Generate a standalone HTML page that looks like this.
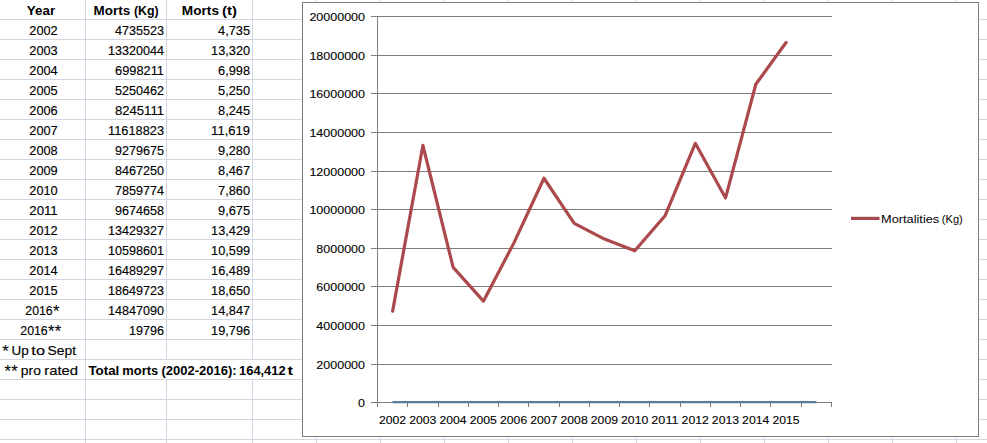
<!DOCTYPE html>
<html><head><meta charset="utf-8"><style>
html,body{margin:0;padding:0;background:#fff;width:987px;height:443px;overflow:hidden}
svg{display:block;font-family:"Liberation Sans", sans-serif}
</style></head><body>
<svg width="987" height="443" viewBox="0 0 987 443">
<rect x="0" y="19" width="987" height="1" fill="#d2d6e2"/>
<rect x="0" y="39" width="987" height="1" fill="#d2d6e2"/>
<rect x="0" y="59" width="987" height="1" fill="#d2d6e2"/>
<rect x="0" y="79" width="987" height="1" fill="#d2d6e2"/>
<rect x="0" y="99" width="987" height="1" fill="#d2d6e2"/>
<rect x="0" y="119" width="987" height="1" fill="#d2d6e2"/>
<rect x="0" y="139" width="987" height="1" fill="#d2d6e2"/>
<rect x="0" y="159" width="987" height="1" fill="#d2d6e2"/>
<rect x="0" y="179" width="987" height="1" fill="#d2d6e2"/>
<rect x="0" y="199" width="987" height="1" fill="#d2d6e2"/>
<rect x="0" y="219" width="987" height="1" fill="#d2d6e2"/>
<rect x="0" y="239" width="987" height="1" fill="#d2d6e2"/>
<rect x="0" y="259" width="987" height="1" fill="#d2d6e2"/>
<rect x="0" y="279" width="987" height="1" fill="#d2d6e2"/>
<rect x="0" y="299" width="987" height="1" fill="#d2d6e2"/>
<rect x="0" y="319" width="987" height="1" fill="#d2d6e2"/>
<rect x="0" y="339" width="987" height="1" fill="#d2d6e2"/>
<rect x="0" y="359" width="987" height="1" fill="#d2d6e2"/>
<rect x="0" y="379" width="987" height="1" fill="#d2d6e2"/>
<rect x="0" y="399" width="987" height="1" fill="#d2d6e2"/>
<rect x="0" y="419" width="987" height="1" fill="#d2d6e2"/>
<rect x="0" y="439" width="987" height="1" fill="#d2d6e2"/>
<rect x="85" y="0" width="1" height="443" fill="#d2d6e2"/>
<rect x="166" y="0" width="1" height="360" fill="#d2d6e2"/>
<rect x="166" y="379" width="1" height="64" fill="#d2d6e2"/>
<rect x="252" y="0" width="1" height="360" fill="#d2d6e2"/>
<rect x="252" y="379" width="1" height="64" fill="#d2d6e2"/>
<rect x="316" y="0" width="1" height="443" fill="#d2d6e2"/>
<rect x="380" y="0" width="1" height="443" fill="#d2d6e2"/>
<rect x="444" y="0" width="1" height="443" fill="#d2d6e2"/>
<rect x="508" y="0" width="1" height="443" fill="#d2d6e2"/>
<rect x="572" y="0" width="1" height="443" fill="#d2d6e2"/>
<rect x="636" y="0" width="1" height="443" fill="#d2d6e2"/>
<rect x="700" y="0" width="1" height="443" fill="#d2d6e2"/>
<rect x="764" y="0" width="1" height="443" fill="#d2d6e2"/>
<rect x="828" y="0" width="1" height="443" fill="#d2d6e2"/>
<rect x="892" y="0" width="1" height="443" fill="#d2d6e2"/>
<rect x="956" y="0" width="1" height="443" fill="#d2d6e2"/>
<text x="26.86" y="15" text-anchor="start" font-size="13" font-weight="bold" textLength="28.29" lengthAdjust="spacingAndGlyphs" fill="#000">Year</text>
<text x="93.64" y="15" text-anchor="start" font-size="13" font-weight="bold" textLength="36.64" lengthAdjust="spacingAndGlyphs" fill="#000">Morts</text>
<text x="133.96" y="15" text-anchor="start" font-size="13" font-weight="bold" textLength="24.76" lengthAdjust="spacingAndGlyphs" fill="#000">(Kg)</text>
<text x="181.82" y="15" text-anchor="start" font-size="13" font-weight="bold" textLength="37.16" lengthAdjust="spacingAndGlyphs" fill="#000">Morts</text>
<text x="222.03" y="15" text-anchor="start" font-size="13" font-weight="bold" textLength="14.92" lengthAdjust="spacingAndGlyphs" fill="#000">(t)</text>
<text x="43.50" y="35" text-anchor="middle" font-size="13" textLength="28.40" lengthAdjust="spacingAndGlyphs" fill="#000" stroke="#000" stroke-width="0.15">2002</text>
<text x="164.00" y="35" text-anchor="end" font-size="13" textLength="49.00" lengthAdjust="spacingAndGlyphs" fill="#000" stroke="#000" stroke-width="0.15">4735523</text>
<text x="250.10" y="35" text-anchor="end" font-size="13" textLength="32.00" lengthAdjust="spacingAndGlyphs" fill="#000" stroke="#000" stroke-width="0.15">4,735</text>
<text x="43.50" y="55" text-anchor="middle" font-size="13" textLength="28.40" lengthAdjust="spacingAndGlyphs" fill="#000" stroke="#000" stroke-width="0.15">2003</text>
<text x="164.00" y="55" text-anchor="end" font-size="13" textLength="56.00" lengthAdjust="spacingAndGlyphs" fill="#000" stroke="#000" stroke-width="0.15">13320044</text>
<text x="250.10" y="55" text-anchor="end" font-size="13" textLength="39.00" lengthAdjust="spacingAndGlyphs" fill="#000" stroke="#000" stroke-width="0.15">13,320</text>
<text x="43.50" y="75" text-anchor="middle" font-size="13" textLength="28.40" lengthAdjust="spacingAndGlyphs" fill="#000" stroke="#000" stroke-width="0.15">2004</text>
<text x="164.00" y="75" text-anchor="end" font-size="13" textLength="49.00" lengthAdjust="spacingAndGlyphs" fill="#000" stroke="#000" stroke-width="0.15">6998211</text>
<text x="250.10" y="75" text-anchor="end" font-size="13" textLength="32.00" lengthAdjust="spacingAndGlyphs" fill="#000" stroke="#000" stroke-width="0.15">6,998</text>
<text x="43.50" y="95" text-anchor="middle" font-size="13" textLength="28.40" lengthAdjust="spacingAndGlyphs" fill="#000" stroke="#000" stroke-width="0.15">2005</text>
<text x="164.00" y="95" text-anchor="end" font-size="13" textLength="49.00" lengthAdjust="spacingAndGlyphs" fill="#000" stroke="#000" stroke-width="0.15">5250462</text>
<text x="250.10" y="95" text-anchor="end" font-size="13" textLength="32.00" lengthAdjust="spacingAndGlyphs" fill="#000" stroke="#000" stroke-width="0.15">5,250</text>
<text x="43.50" y="115" text-anchor="middle" font-size="13" textLength="28.40" lengthAdjust="spacingAndGlyphs" fill="#000" stroke="#000" stroke-width="0.15">2006</text>
<text x="164.00" y="115" text-anchor="end" font-size="13" textLength="49.00" lengthAdjust="spacingAndGlyphs" fill="#000" stroke="#000" stroke-width="0.15">8245111</text>
<text x="250.10" y="115" text-anchor="end" font-size="13" textLength="32.00" lengthAdjust="spacingAndGlyphs" fill="#000" stroke="#000" stroke-width="0.15">8,245</text>
<text x="43.50" y="135" text-anchor="middle" font-size="13" textLength="28.40" lengthAdjust="spacingAndGlyphs" fill="#000" stroke="#000" stroke-width="0.15">2007</text>
<text x="164.00" y="135" text-anchor="end" font-size="13" textLength="56.00" lengthAdjust="spacingAndGlyphs" fill="#000" stroke="#000" stroke-width="0.15">11618823</text>
<text x="250.10" y="135" text-anchor="end" font-size="13" textLength="39.00" lengthAdjust="spacingAndGlyphs" fill="#000" stroke="#000" stroke-width="0.15">11,619</text>
<text x="43.50" y="155" text-anchor="middle" font-size="13" textLength="28.40" lengthAdjust="spacingAndGlyphs" fill="#000" stroke="#000" stroke-width="0.15">2008</text>
<text x="164.00" y="155" text-anchor="end" font-size="13" textLength="49.00" lengthAdjust="spacingAndGlyphs" fill="#000" stroke="#000" stroke-width="0.15">9279675</text>
<text x="250.10" y="155" text-anchor="end" font-size="13" textLength="32.00" lengthAdjust="spacingAndGlyphs" fill="#000" stroke="#000" stroke-width="0.15">9,280</text>
<text x="43.50" y="175" text-anchor="middle" font-size="13" textLength="28.40" lengthAdjust="spacingAndGlyphs" fill="#000" stroke="#000" stroke-width="0.15">2009</text>
<text x="164.00" y="175" text-anchor="end" font-size="13" textLength="49.00" lengthAdjust="spacingAndGlyphs" fill="#000" stroke="#000" stroke-width="0.15">8467250</text>
<text x="250.10" y="175" text-anchor="end" font-size="13" textLength="32.00" lengthAdjust="spacingAndGlyphs" fill="#000" stroke="#000" stroke-width="0.15">8,467</text>
<text x="43.50" y="195" text-anchor="middle" font-size="13" textLength="28.40" lengthAdjust="spacingAndGlyphs" fill="#000" stroke="#000" stroke-width="0.15">2010</text>
<text x="164.00" y="195" text-anchor="end" font-size="13" textLength="49.00" lengthAdjust="spacingAndGlyphs" fill="#000" stroke="#000" stroke-width="0.15">7859774</text>
<text x="250.10" y="195" text-anchor="end" font-size="13" textLength="32.00" lengthAdjust="spacingAndGlyphs" fill="#000" stroke="#000" stroke-width="0.15">7,860</text>
<text x="43.50" y="215" text-anchor="middle" font-size="13" textLength="28.40" lengthAdjust="spacingAndGlyphs" fill="#000" stroke="#000" stroke-width="0.15">2011</text>
<text x="164.00" y="215" text-anchor="end" font-size="13" textLength="49.00" lengthAdjust="spacingAndGlyphs" fill="#000" stroke="#000" stroke-width="0.15">9674658</text>
<text x="250.10" y="215" text-anchor="end" font-size="13" textLength="32.00" lengthAdjust="spacingAndGlyphs" fill="#000" stroke="#000" stroke-width="0.15">9,675</text>
<text x="43.50" y="235" text-anchor="middle" font-size="13" textLength="28.40" lengthAdjust="spacingAndGlyphs" fill="#000" stroke="#000" stroke-width="0.15">2012</text>
<text x="164.00" y="235" text-anchor="end" font-size="13" textLength="56.00" lengthAdjust="spacingAndGlyphs" fill="#000" stroke="#000" stroke-width="0.15">13429327</text>
<text x="250.10" y="235" text-anchor="end" font-size="13" textLength="39.00" lengthAdjust="spacingAndGlyphs" fill="#000" stroke="#000" stroke-width="0.15">13,429</text>
<text x="43.50" y="255" text-anchor="middle" font-size="13" textLength="28.40" lengthAdjust="spacingAndGlyphs" fill="#000" stroke="#000" stroke-width="0.15">2013</text>
<text x="164.00" y="255" text-anchor="end" font-size="13" textLength="56.00" lengthAdjust="spacingAndGlyphs" fill="#000" stroke="#000" stroke-width="0.15">10598601</text>
<text x="250.10" y="255" text-anchor="end" font-size="13" textLength="39.00" lengthAdjust="spacingAndGlyphs" fill="#000" stroke="#000" stroke-width="0.15">10,599</text>
<text x="43.50" y="275" text-anchor="middle" font-size="13" textLength="28.40" lengthAdjust="spacingAndGlyphs" fill="#000" stroke="#000" stroke-width="0.15">2014</text>
<text x="164.00" y="275" text-anchor="end" font-size="13" textLength="56.00" lengthAdjust="spacingAndGlyphs" fill="#000" stroke="#000" stroke-width="0.15">16489297</text>
<text x="250.10" y="275" text-anchor="end" font-size="13" textLength="39.00" lengthAdjust="spacingAndGlyphs" fill="#000" stroke="#000" stroke-width="0.15">16,489</text>
<text x="43.50" y="295" text-anchor="middle" font-size="13" textLength="28.40" lengthAdjust="spacingAndGlyphs" fill="#000" stroke="#000" stroke-width="0.15">2015</text>
<text x="164.00" y="295" text-anchor="end" font-size="13" textLength="56.00" lengthAdjust="spacingAndGlyphs" fill="#000" stroke="#000" stroke-width="0.15">18649723</text>
<text x="250.10" y="295" text-anchor="end" font-size="13" textLength="39.00" lengthAdjust="spacingAndGlyphs" fill="#000" stroke="#000" stroke-width="0.15">18,650</text>
<text x="25.30" y="315" text-anchor="start" font-size="13" textLength="27.40" lengthAdjust="spacingAndGlyphs" fill="#000" stroke="#000" stroke-width="0.15">2016</text>
<text x="52.90" y="317.2" font-size="16.5" fill="#000" stroke="#000" stroke-width="0.1">*</text>
<text x="164.00" y="315" text-anchor="end" font-size="13" textLength="56.00" lengthAdjust="spacingAndGlyphs" fill="#000" stroke="#000" stroke-width="0.15">14847090</text>
<text x="250.10" y="315" text-anchor="end" font-size="13" textLength="39.00" lengthAdjust="spacingAndGlyphs" fill="#000" stroke="#000" stroke-width="0.15">14,847</text>
<text x="20.30" y="335" text-anchor="start" font-size="13" textLength="27.40" lengthAdjust="spacingAndGlyphs" fill="#000" stroke="#000" stroke-width="0.15">2016</text>
<text x="47.90" y="337.2" font-size="16.5" fill="#000" stroke="#000" stroke-width="0.1">*</text>
<text x="54.70" y="337.2" font-size="16.5" fill="#000" stroke="#000" stroke-width="0.1">*</text>
<text x="164.00" y="335" text-anchor="end" font-size="13" textLength="35.00" lengthAdjust="spacingAndGlyphs" fill="#000" stroke="#000" stroke-width="0.15">19796</text>
<text x="250.10" y="335" text-anchor="end" font-size="13" textLength="39.00" lengthAdjust="spacingAndGlyphs" fill="#000" stroke="#000" stroke-width="0.15">19,796</text>
<text x="2.20" y="357.2" font-size="16.5" fill="#000" stroke="#000" stroke-width="0.1">*</text>
<text x="11.56" y="355" text-anchor="start" font-size="13" textLength="17.28" lengthAdjust="spacingAndGlyphs" fill="#000" stroke="#000" stroke-width="0.15">Up</text>
<text x="31.39" y="355" text-anchor="start" font-size="13" textLength="13.55" lengthAdjust="spacingAndGlyphs" fill="#000" stroke="#000" stroke-width="0.15">to</text>
<text x="47.59" y="355" text-anchor="start" font-size="13" textLength="28.39" lengthAdjust="spacingAndGlyphs" fill="#000" stroke="#000" stroke-width="0.15">Sept</text>
<text x="4.50" y="377.2" font-size="16.5" fill="#000" stroke="#000" stroke-width="0.1">*</text>
<text x="11.20" y="377.2" font-size="16.5" fill="#000" stroke="#000" stroke-width="0.1">*</text>
<text x="20.81" y="375" text-anchor="start" font-size="13" textLength="20.05" lengthAdjust="spacingAndGlyphs" fill="#000" stroke="#000" stroke-width="0.15">pro</text>
<text x="44.25" y="375" text-anchor="start" font-size="13" textLength="33.87" lengthAdjust="spacingAndGlyphs" fill="#000" stroke="#000" stroke-width="0.15">rated</text>
<text x="88.43" y="375" text-anchor="start" font-size="13" font-weight="bold" textLength="30.92" lengthAdjust="spacingAndGlyphs" fill="#000">Total</text>
<text x="122.27" y="375" text-anchor="start" font-size="13" font-weight="bold" textLength="35.95" lengthAdjust="spacingAndGlyphs" fill="#000">morts</text>
<text x="161.53" y="375" text-anchor="start" font-size="13" font-weight="bold" textLength="75.19" lengthAdjust="spacingAndGlyphs" fill="#000">(2002-2016):</text>
<text x="239.08" y="375" text-anchor="start" font-size="13" font-weight="bold" textLength="46.51" lengthAdjust="spacingAndGlyphs" fill="#000">164,412</text>
<text x="287.59" y="375" text-anchor="start" font-size="13" font-weight="bold" textLength="5.52" lengthAdjust="spacingAndGlyphs" fill="#000">t</text>
<rect x="302.5" y="2.5" width="676" height="434" fill="#fff" stroke="#7c7c7c" stroke-width="1"/>
<rect x="371" y="402" width="461" height="1" fill="#7c7c7c"/>
<text x="365.00" y="407" text-anchor="end" font-size="11.5" textLength="6.95" lengthAdjust="spacingAndGlyphs" fill="#000" stroke="#000" stroke-width="0.1">0</text>
<rect x="371" y="364" width="461" height="1" fill="#7c7c7c"/>
<text x="365.00" y="369" text-anchor="end" font-size="11.5" textLength="48.65" lengthAdjust="spacingAndGlyphs" fill="#000" stroke="#000" stroke-width="0.1">2000000</text>
<rect x="371" y="325" width="461" height="1" fill="#7c7c7c"/>
<text x="365.00" y="330" text-anchor="end" font-size="11.5" textLength="48.65" lengthAdjust="spacingAndGlyphs" fill="#000" stroke="#000" stroke-width="0.1">4000000</text>
<rect x="371" y="286" width="461" height="1" fill="#7c7c7c"/>
<text x="365.00" y="291" text-anchor="end" font-size="11.5" textLength="48.65" lengthAdjust="spacingAndGlyphs" fill="#000" stroke="#000" stroke-width="0.1">6000000</text>
<rect x="371" y="248" width="461" height="1" fill="#7c7c7c"/>
<text x="365.00" y="253" text-anchor="end" font-size="11.5" textLength="48.65" lengthAdjust="spacingAndGlyphs" fill="#000" stroke="#000" stroke-width="0.1">8000000</text>
<rect x="371" y="209" width="461" height="1" fill="#7c7c7c"/>
<text x="365.00" y="214" text-anchor="end" font-size="11.5" textLength="55.60" lengthAdjust="spacingAndGlyphs" fill="#000" stroke="#000" stroke-width="0.1">10000000</text>
<rect x="371" y="171" width="461" height="1" fill="#7c7c7c"/>
<text x="365.00" y="176" text-anchor="end" font-size="11.5" textLength="55.60" lengthAdjust="spacingAndGlyphs" fill="#000" stroke="#000" stroke-width="0.1">12000000</text>
<rect x="371" y="132" width="461" height="1" fill="#7c7c7c"/>
<text x="365.00" y="137" text-anchor="end" font-size="11.5" textLength="55.60" lengthAdjust="spacingAndGlyphs" fill="#000" stroke="#000" stroke-width="0.1">14000000</text>
<rect x="371" y="93" width="461" height="1" fill="#7c7c7c"/>
<text x="365.00" y="98" text-anchor="end" font-size="11.5" textLength="55.60" lengthAdjust="spacingAndGlyphs" fill="#000" stroke="#000" stroke-width="0.1">16000000</text>
<rect x="371" y="55" width="461" height="1" fill="#7c7c7c"/>
<text x="365.00" y="60" text-anchor="end" font-size="11.5" textLength="55.60" lengthAdjust="spacingAndGlyphs" fill="#000" stroke="#000" stroke-width="0.1">18000000</text>
<rect x="371" y="16" width="461" height="1" fill="#7c7c7c"/>
<text x="365.00" y="21" text-anchor="end" font-size="11.5" textLength="55.60" lengthAdjust="spacingAndGlyphs" fill="#000" stroke="#000" stroke-width="0.1">20000000</text>
<rect x="377" y="16" width="1" height="391" fill="#7c7c7c"/>
<rect x="407" y="402" width="1" height="5" fill="#7c7c7c"/>
<rect x="438" y="402" width="1" height="5" fill="#7c7c7c"/>
<rect x="468" y="402" width="1" height="5" fill="#7c7c7c"/>
<rect x="498" y="402" width="1" height="5" fill="#7c7c7c"/>
<rect x="528" y="402" width="1" height="5" fill="#7c7c7c"/>
<rect x="559" y="402" width="1" height="5" fill="#7c7c7c"/>
<rect x="589" y="402" width="1" height="5" fill="#7c7c7c"/>
<rect x="619" y="402" width="1" height="5" fill="#7c7c7c"/>
<rect x="649" y="402" width="1" height="5" fill="#7c7c7c"/>
<rect x="680" y="402" width="1" height="5" fill="#7c7c7c"/>
<rect x="710" y="402" width="1" height="5" fill="#7c7c7c"/>
<rect x="740" y="402" width="1" height="5" fill="#7c7c7c"/>
<rect x="770" y="402" width="1" height="5" fill="#7c7c7c"/>
<rect x="801" y="402" width="1" height="5" fill="#7c7c7c"/>
<rect x="831" y="402" width="1" height="5" fill="#7c7c7c"/>
<text x="392.53" y="424" text-anchor="middle" font-size="11.5" textLength="27.20" lengthAdjust="spacingAndGlyphs" fill="#000" stroke="#000" stroke-width="0.1">2002</text>
<text x="422.80" y="424" text-anchor="middle" font-size="11.5" textLength="27.20" lengthAdjust="spacingAndGlyphs" fill="#000" stroke="#000" stroke-width="0.1">2003</text>
<text x="453.07" y="424" text-anchor="middle" font-size="11.5" textLength="27.20" lengthAdjust="spacingAndGlyphs" fill="#000" stroke="#000" stroke-width="0.1">2004</text>
<text x="483.33" y="424" text-anchor="middle" font-size="11.5" textLength="27.20" lengthAdjust="spacingAndGlyphs" fill="#000" stroke="#000" stroke-width="0.1">2005</text>
<text x="513.60" y="424" text-anchor="middle" font-size="11.5" textLength="27.20" lengthAdjust="spacingAndGlyphs" fill="#000" stroke="#000" stroke-width="0.1">2006</text>
<text x="543.87" y="424" text-anchor="middle" font-size="11.5" textLength="27.20" lengthAdjust="spacingAndGlyphs" fill="#000" stroke="#000" stroke-width="0.1">2007</text>
<text x="574.13" y="424" text-anchor="middle" font-size="11.5" textLength="27.20" lengthAdjust="spacingAndGlyphs" fill="#000" stroke="#000" stroke-width="0.1">2008</text>
<text x="604.40" y="424" text-anchor="middle" font-size="11.5" textLength="27.20" lengthAdjust="spacingAndGlyphs" fill="#000" stroke="#000" stroke-width="0.1">2009</text>
<text x="634.67" y="424" text-anchor="middle" font-size="11.5" textLength="27.20" lengthAdjust="spacingAndGlyphs" fill="#000" stroke="#000" stroke-width="0.1">2010</text>
<text x="664.93" y="424" text-anchor="middle" font-size="11.5" textLength="27.20" lengthAdjust="spacingAndGlyphs" fill="#000" stroke="#000" stroke-width="0.1">2011</text>
<text x="695.20" y="424" text-anchor="middle" font-size="11.5" textLength="27.20" lengthAdjust="spacingAndGlyphs" fill="#000" stroke="#000" stroke-width="0.1">2012</text>
<text x="725.47" y="424" text-anchor="middle" font-size="11.5" textLength="27.20" lengthAdjust="spacingAndGlyphs" fill="#000" stroke="#000" stroke-width="0.1">2013</text>
<text x="755.73" y="424" text-anchor="middle" font-size="11.5" textLength="27.20" lengthAdjust="spacingAndGlyphs" fill="#000" stroke="#000" stroke-width="0.1">2014</text>
<text x="786.00" y="424" text-anchor="middle" font-size="11.5" textLength="27.20" lengthAdjust="spacingAndGlyphs" fill="#000" stroke="#000" stroke-width="0.1">2015</text>
<polyline points="392.63,402.06 422.90,402.06 453.17,402.06 483.43,402.06 513.70,402.06 543.97,402.06 574.23,402.06 604.50,402.06 634.77,402.06 665.03,402.06 695.30,402.06 725.57,402.06 755.83,402.06 786.10,402.06 816.37,402.06" fill="none" stroke="#5c7b96" stroke-width="2.3" stroke-linejoin="round"/>
<polyline points="392.63,311.10 422.90,145.42 453.17,267.43 483.43,301.17 513.70,243.37 543.97,178.26 574.23,223.40 604.50,239.08 634.77,250.81 665.03,215.78 695.30,143.31 725.57,197.95 755.83,84.26 786.10,42.56" fill="none" stroke="#ac494c" stroke-width="3.2" stroke-linejoin="round" stroke-linecap="round"/>
<line x1="851" y1="218.4" x2="879.5" y2="218.4" stroke="#a44a4f" stroke-width="3.2"/>
<text x="881.03" y="223" text-anchor="start" font-size="11" textLength="58.20" lengthAdjust="spacingAndGlyphs" fill="#000">Mortalities</text>
<text x="941.83" y="223" text-anchor="start" font-size="11" textLength="20.89" lengthAdjust="spacingAndGlyphs" fill="#000">(Kg)</text>
</svg>
</body></html>
